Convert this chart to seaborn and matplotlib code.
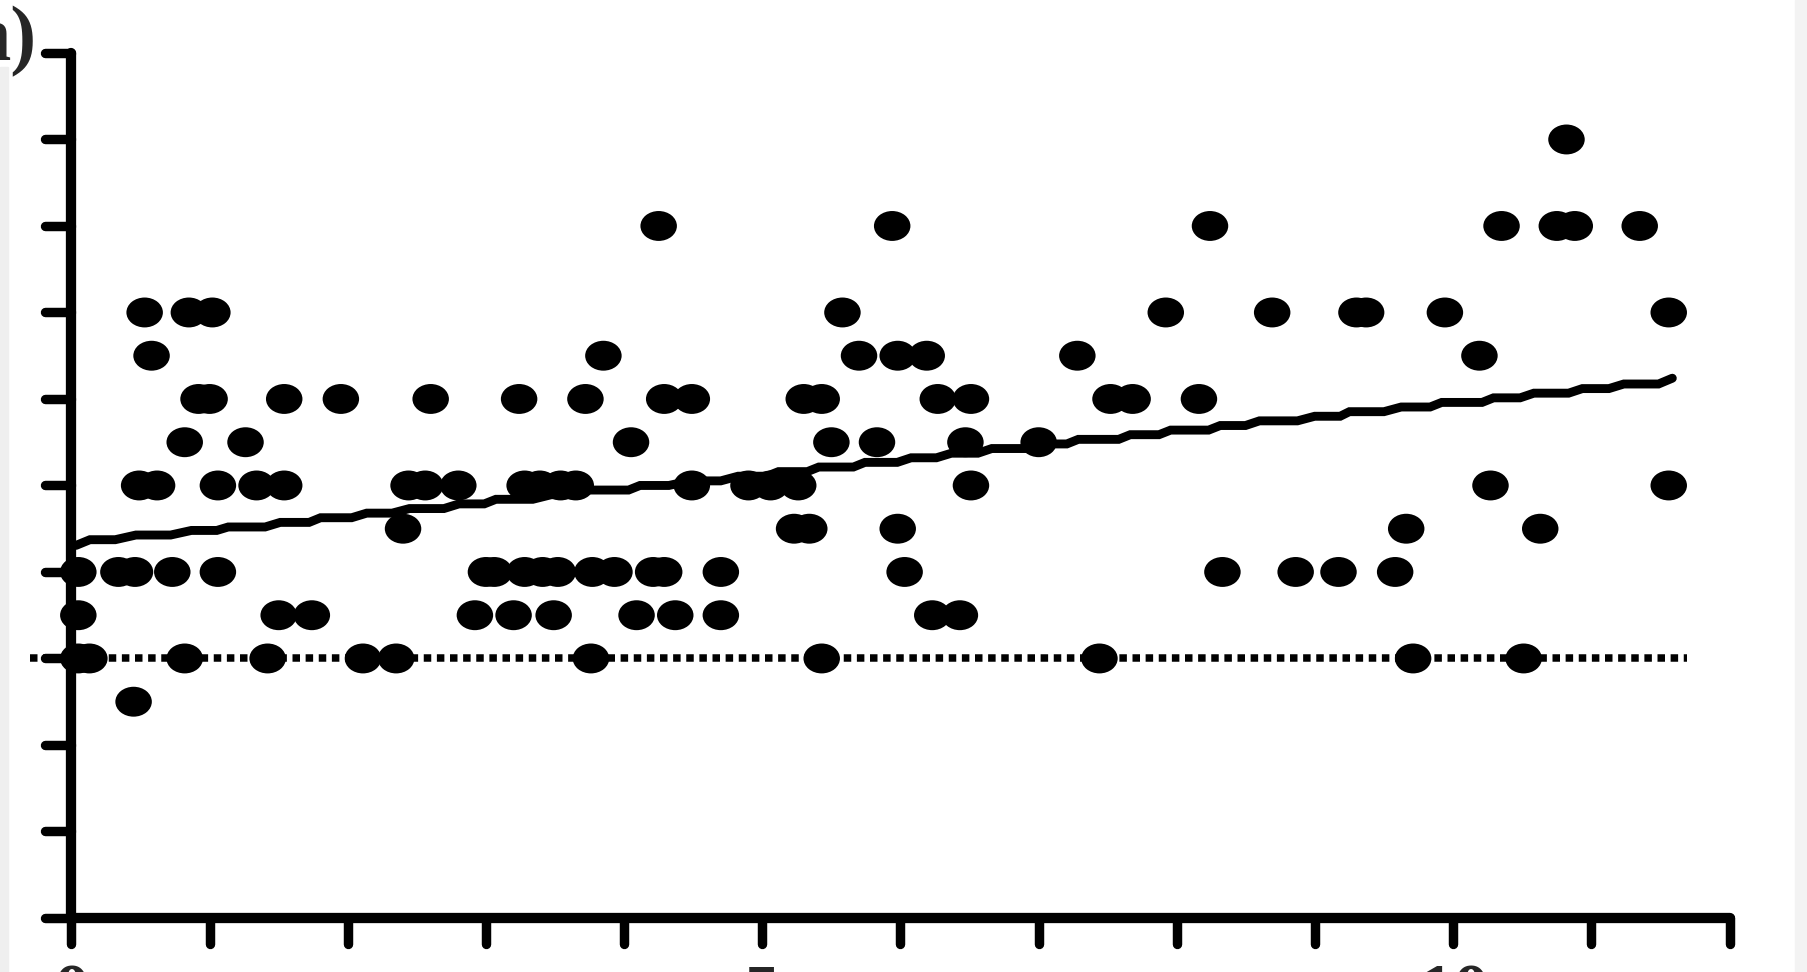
import numpy as np
import pandas as pd
import matplotlib.pyplot as plt
import seaborn as sns
from matplotlib.path import Path
from matplotlib.patches import Rectangle
from matplotlib.markers import MarkerStyle

# scatter points, grouped by the level they sit on (x)
x_at_9_0 = [10.82]
x_at_8_0 = [4.25, 5.94, 8.24, 10.35, 10.75, 10.88, 11.35]
x_at_7_0 = [0.53, 0.85, 1.02, 5.58, 7.92, 8.69, 9.30, 9.37, 9.94, 11.56]
x_at_6_5 = [0.58, 3.85, 5.70, 5.98, 6.19, 7.28, 10.19]
x_at_6_0 = [0.92, 1.00, 1.54, 1.95, 2.60, 3.24, 3.72, 4.29, 4.49, 5.30,
            5.43, 6.27, 6.51, 7.52, 7.68, 8.16]
x_at_5_5 = [0.82, 1.26, 4.05, 5.50, 5.83, 6.47, 7.00]
x_at_5_0 = [0.49, 0.62, 1.06, 1.34, 1.54, 2.44, 2.56, 2.80, 3.28, 3.39,
            3.54, 3.65, 4.49, 4.90, 5.06, 5.26, 6.51, 10.27, 11.56]
x_at_4_5 = [2.40, 5.23, 5.34, 5.98, 9.66, 10.63]
x_at_4_0 = [0.05, 0.34, 0.46, 0.73, 1.06, 3.00, 3.06, 3.28, 3.41, 3.52,
            3.77, 3.93, 4.21, 4.29, 4.70, 6.03, 8.33, 8.86, 9.17, 9.58]
x_at_3_5 = [0.05, 1.50, 1.74, 2.92, 3.20, 3.49, 4.09, 4.37, 4.70, 6.23, 6.43]
x_at_3_0 = [0.05, 0.13, 0.82, 1.42, 2.11, 2.35, 3.76, 5.43, 7.44, 9.71, 10.51]
x_at_2_5 = [0.45]

# stepped trend line: each flat step (start x, end x, level)
step_x0 = [0.134, 0.467, 0.868, 1.135, 1.511, 1.803, 2.137, 2.446, 2.805, 3.072,
           3.472, 3.740, 4.115, 4.474, 4.825, 5.117, 5.409, 5.743, 6.077, 6.369,
           6.661, 6.995, 7.287, 7.663, 7.955, 8.314, 8.598, 8.998, 9.249, 9.624,
           9.917, 10.292, 10.584, 10.935, 11.235]
step_x1 = [0.317, 0.718, 1.052, 1.402, 1.720, 2.028, 2.321, 2.696, 2.988, 3.339,
           3.614, 4.032, 4.324, 4.699, 5.033, 5.326, 5.659, 5.977, 6.260, 6.561,
           6.912, 7.204, 7.579, 7.871, 8.230, 8.497, 8.873, 9.182, 9.499, 9.833,
           10.209, 10.484, 10.835, 11.127, 11.486]
step_y = [4.373, 4.427, 4.480, 4.520, 4.573, 4.627, 4.680, 4.733, 4.787, 4.840,
          4.893, 4.947, 5.000, 5.053, 5.107, 5.160, 5.213, 5.267, 5.320, 5.373,
          5.427, 5.480, 5.533, 5.587, 5.640, 5.693, 5.747, 5.800, 5.853, 5.907,
          5.960, 6.013, 6.067, 6.120, 6.173]
line_start = (0.033, 4.307)
line_end = (11.586, 6.240)

# dotted reference line
ref_x = [-0.30, 11.69]
ref_y = [3.0, 3.0]

x_ticks = list(range(13))
x_tick_labels = ["0", "", "", "", "", "5", "", "", "", "", "10", "", ""]
y_ticks = list(range(11))

rows = [(9.0, x_at_9_0), (8.0, x_at_8_0), (7.0, x_at_7_0), (6.5, x_at_6_5),
        (6.0, x_at_6_0), (5.5, x_at_5_5), (5.0, x_at_5_0), (4.5, x_at_4_5),
        (4.0, x_at_4_0), (3.5, x_at_3_5), (3.0, x_at_3_0), (2.5, x_at_2_5)]
df_pts = pd.DataFrame(
    [(x, lvl) for lvl, xs in rows for x in xs], columns=["x", "y"]
)

line_x = [line_start[0]]
line_y = [line_start[1]]
for a, b, lvl in zip(step_x0, step_x1, step_y):
    line_x += [a, b]
    line_y += [lvl, lvl]
line_x.append(line_end[0])
line_y.append(line_end[1])
df_line = pd.DataFrame({"x": line_x, "y": line_y})
df_ref = pd.DataFrame({"x": ref_x, "y": ref_y})

sns.set_style("ticks")
plt.rcParams["font.family"] = ["Liberation Serif", "DejaVu Serif"]

fig = plt.figure(figsize=(18.08, 9.72), dpi=100)
ax = fig.add_axes([0.0395, 0.0556, 0.9171, 0.8899])

# wide ellipse marker
circ = Path.unit_circle()
ellipse = Path(circ.vertices * np.array([1.22, 1.0]), circ.codes)

sns.lineplot(data=df_ref, x="x", y="y", color="black", linewidth=5.4,
             linestyle=(0, (1, 0.75)), dash_capstyle="butt",
             clip_on=False, ax=ax, legend=False)
sns.lineplot(data=df_line, x="x", y="y", color="black", linewidth=6.4,
             sort=False, solid_capstyle="round", solid_joinstyle="miter",
             ax=ax, legend=False)
sns.scatterplot(data=df_pts, x="x", y="y", color="black", marker=ellipse,
                s=690, linewidth=0, edgecolor="none", clip_on=False,
                zorder=3, ax=ax, legend=False)

ax.set_xlim(0, 12)
ax.set_ylim(0, 10)
ax.set_xticks(x_ticks)
ax.set_xticklabels(x_tick_labels)
ax.set_yticks(y_ticks)
ax.set_yticklabels([])
ax.set_xlabel("")
ax.set_ylabel("")

for side in ["top", "right"]:
    ax.spines[side].set_visible(False)
for side in ["left", "bottom"]:
    ax.spines[side].set_linewidth(7.4)
    ax.spines[side].set_color("black")
    ax.spines[side].set_capstyle("round")

ax.tick_params(axis="both", direction="out", length=19, width=6.8,
               color="black", bottom=True, left=True, top=False, right=False)
ax.tick_params(axis="x", pad=14, labelsize=52)
for lbl in ax.get_xticklabels():
    lbl.set_fontweight("bold")

# rounded tick ends like the original
for tl in ax.xaxis.get_ticklines() + ax.yaxis.get_ticklines():
    tl.set_marker(MarkerStyle(tl.get_marker(), capstyle="round"))

fig.text(37 / 1808, 1 - 42 / 972, "n)", ha="right", va="center",
         fontsize=56, fontweight="bold")

# light grey edges of the original screenshot
fig.patches.append(Rectangle((0, 0), 8 / 1808, 905 / 972,
                             transform=fig.transFigure, color="#efefef",
                             zorder=-1))
fig.patches.append(Rectangle((1795 / 1808, 0), 13 / 1808, 1,
                             transform=fig.transFigure, color="#f3f3f3",
                             zorder=-1))

fig.savefig("out.png", dpi=100)
